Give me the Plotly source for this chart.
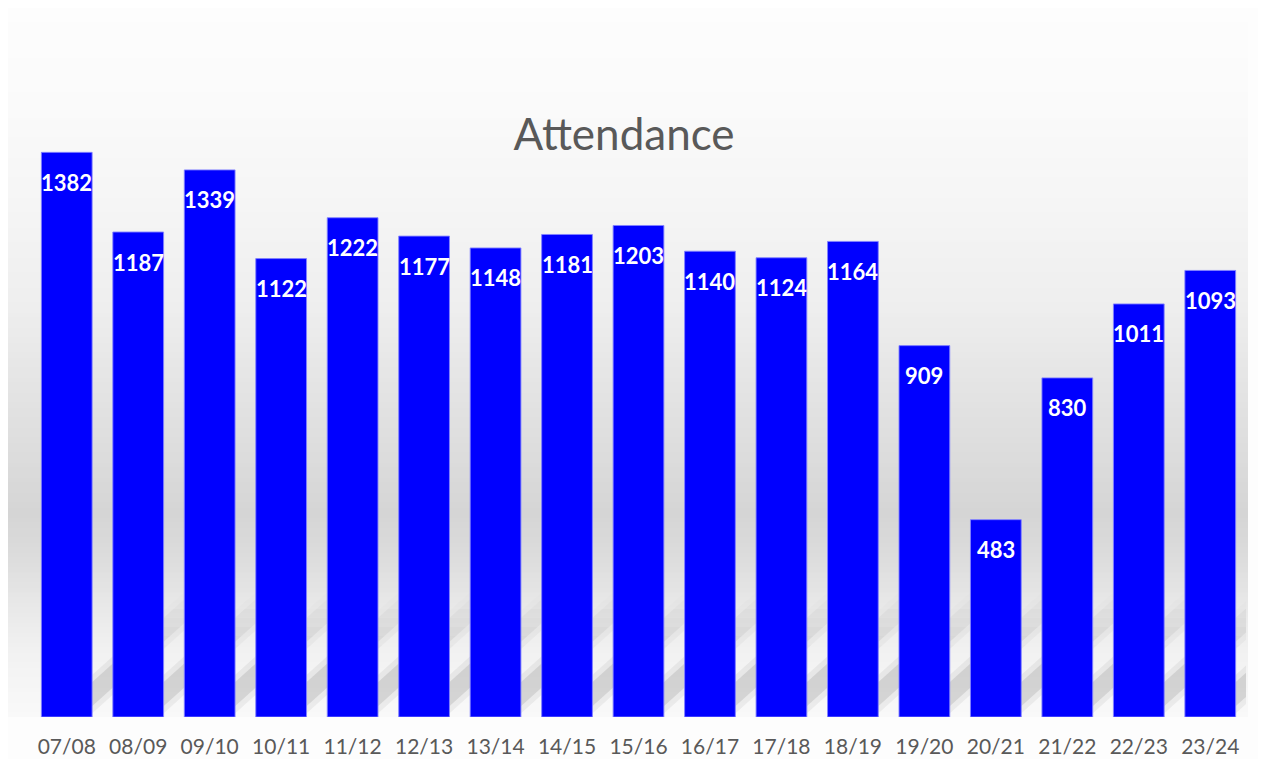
import plotly.graph_objects as go

seasons = ["07/08", "08/09", "09/10", "10/11", "11/12", "12/13", "13/14", "14/15",
           "15/16", "16/17", "17/18", "18/19", "19/20", "20/21", "21/22", "22/23", "23/24"]
attendance = [1382, 1187, 1339, 1122, 1222, 1177, 1148, 1181,
              1203, 1140, 1124, 1164, 909, 483, 830, 1011, 1093]

# page has an 8px body margin; figure coordinates below are relative to the figure
W, H = 1250, 751
ML, MR, MT, MB = 23, 12, 137, 42
PLOT_BOTTOM = H - MB
PLOT_H = H - MT - MB
PLOT_W = W - ML - MR
CAT_PX = PLOT_W / len(seasons)

def py(px):
    return (PLOT_BOTTOM - px) / PLOT_H

def px_x(px):
    return (px - ML) / PLOT_W

# background gradient stops (figure pixel y, gray level)
stops = [(0, 253), (100, 250), (200, 245), (300, 238), (380, 228), (450, 220),
         (505, 213), (550, 220), (600, 233), (650, 242), (690, 247), (709, 249)]

def gray_at(y):
    for (y0, g0), (y1, g1) in zip(stops[:-1], stops[1:]):
        if y0 <= y <= y1:
            return g0 + (g1 - g0) * (y - y0) / (y1 - y0)
    return stops[-1][1]

shapes = []
step = 5
y = 0
while y < PLOT_BOTTOM:
    y2 = min(y + step, PLOT_BOTTOM)
    g = int(round(gray_at((y + y2) / 2)))
    shapes.append(dict(type="rect", xref="paper", yref="paper",
                       x0=px_x(0), x1=px_x(1240), y0=py(y2), y1=py(y) + 0.001,
                       fillcolor=f"rgb({g},{g},{g})", line=dict(width=0), layer="below"))
    y = y2

# diagonal perspective shadows behind each bar (soft, fading upward)
half = 0.355
shadow_h = 135
slope = 0.9
nseg = 15
for i in range(len(seasons)):
    for s in range(nseg):
        ya = s * shadow_h / nseg
        yb = (s + 1) * shadow_h / nseg
        mid = (ya + yb) / 2
        if mid < 55:
            op = 1.0
        else:
            op = max(0.0, 1 - (mid - 55) / 85) ** 1.3
        for grow, a in ((-4, 0.06), (-12, 0.11)):
            g_cat = grow / CAT_PX
            xa = ya / slope / CAT_PX
            xb = yb / slope / CAT_PX
            y_a = ya / PLOT_H
            y_b = yb / PLOT_H
            path = (f"M {i - half - g_cat + xa},{y_a} L {i + half + g_cat + xa},{y_a} "
                    f"L {i + half + g_cat + xb},{y_b} L {i - half - g_cat + xb},{y_b} Z")
            shapes.append(dict(type="path", xref="x", yref="paper", path=path,
                               fillcolor=f"rgba(40,40,40,{op * a:.3f})",
                               line=dict(width=0), layer="below"))

fig = go.Figure()
fig.add_trace(go.Bar(
    x=seasons, y=attendance,
    marker=dict(color="#0000FF", line=dict(color="rgba(130,130,255,0.9)", width=1)),
    hoverinfo="skip",
))

annotations = []
for s_, v in zip(seasons, attendance):
    annotations.append(dict(x=s_, y=v, text=f"<b>{v}</b>", showarrow=False,
                            yshift=-30, yanchor="middle",
                            font=dict(family="Lato", size=22, color="white")))

fig.update_layout(
    width=W, height=H,
    margin=dict(l=ML, r=MR, t=MT, b=MB),
    paper_bgcolor="#fdfdfd",
    plot_bgcolor="rgba(0,0,0,0)",
    bargap=0.29,
    showlegend=False,
    title=dict(text="Attendance", xref="container", yref="container",
               x=616 / W, y=1 - 127 / H, xanchor="center", yanchor="middle",
               font=dict(family="Lato", size=44, color="#595959")),
    xaxis=dict(showgrid=False, zeroline=False, showline=False, ticks="",
               tickfont=dict(family="Lato", size=21, color="#595959"),
               ticklabelstandoff=15, automargin=False,
               range=[-0.5, len(seasons) - 0.5]),
    yaxis=dict(range=[0, 1400], showgrid=False, zeroline=False, showline=False,
               showticklabels=False, ticks="", automargin=False),
    shapes=shapes,
    annotations=annotations,
)

fig.write_html("out.html")
